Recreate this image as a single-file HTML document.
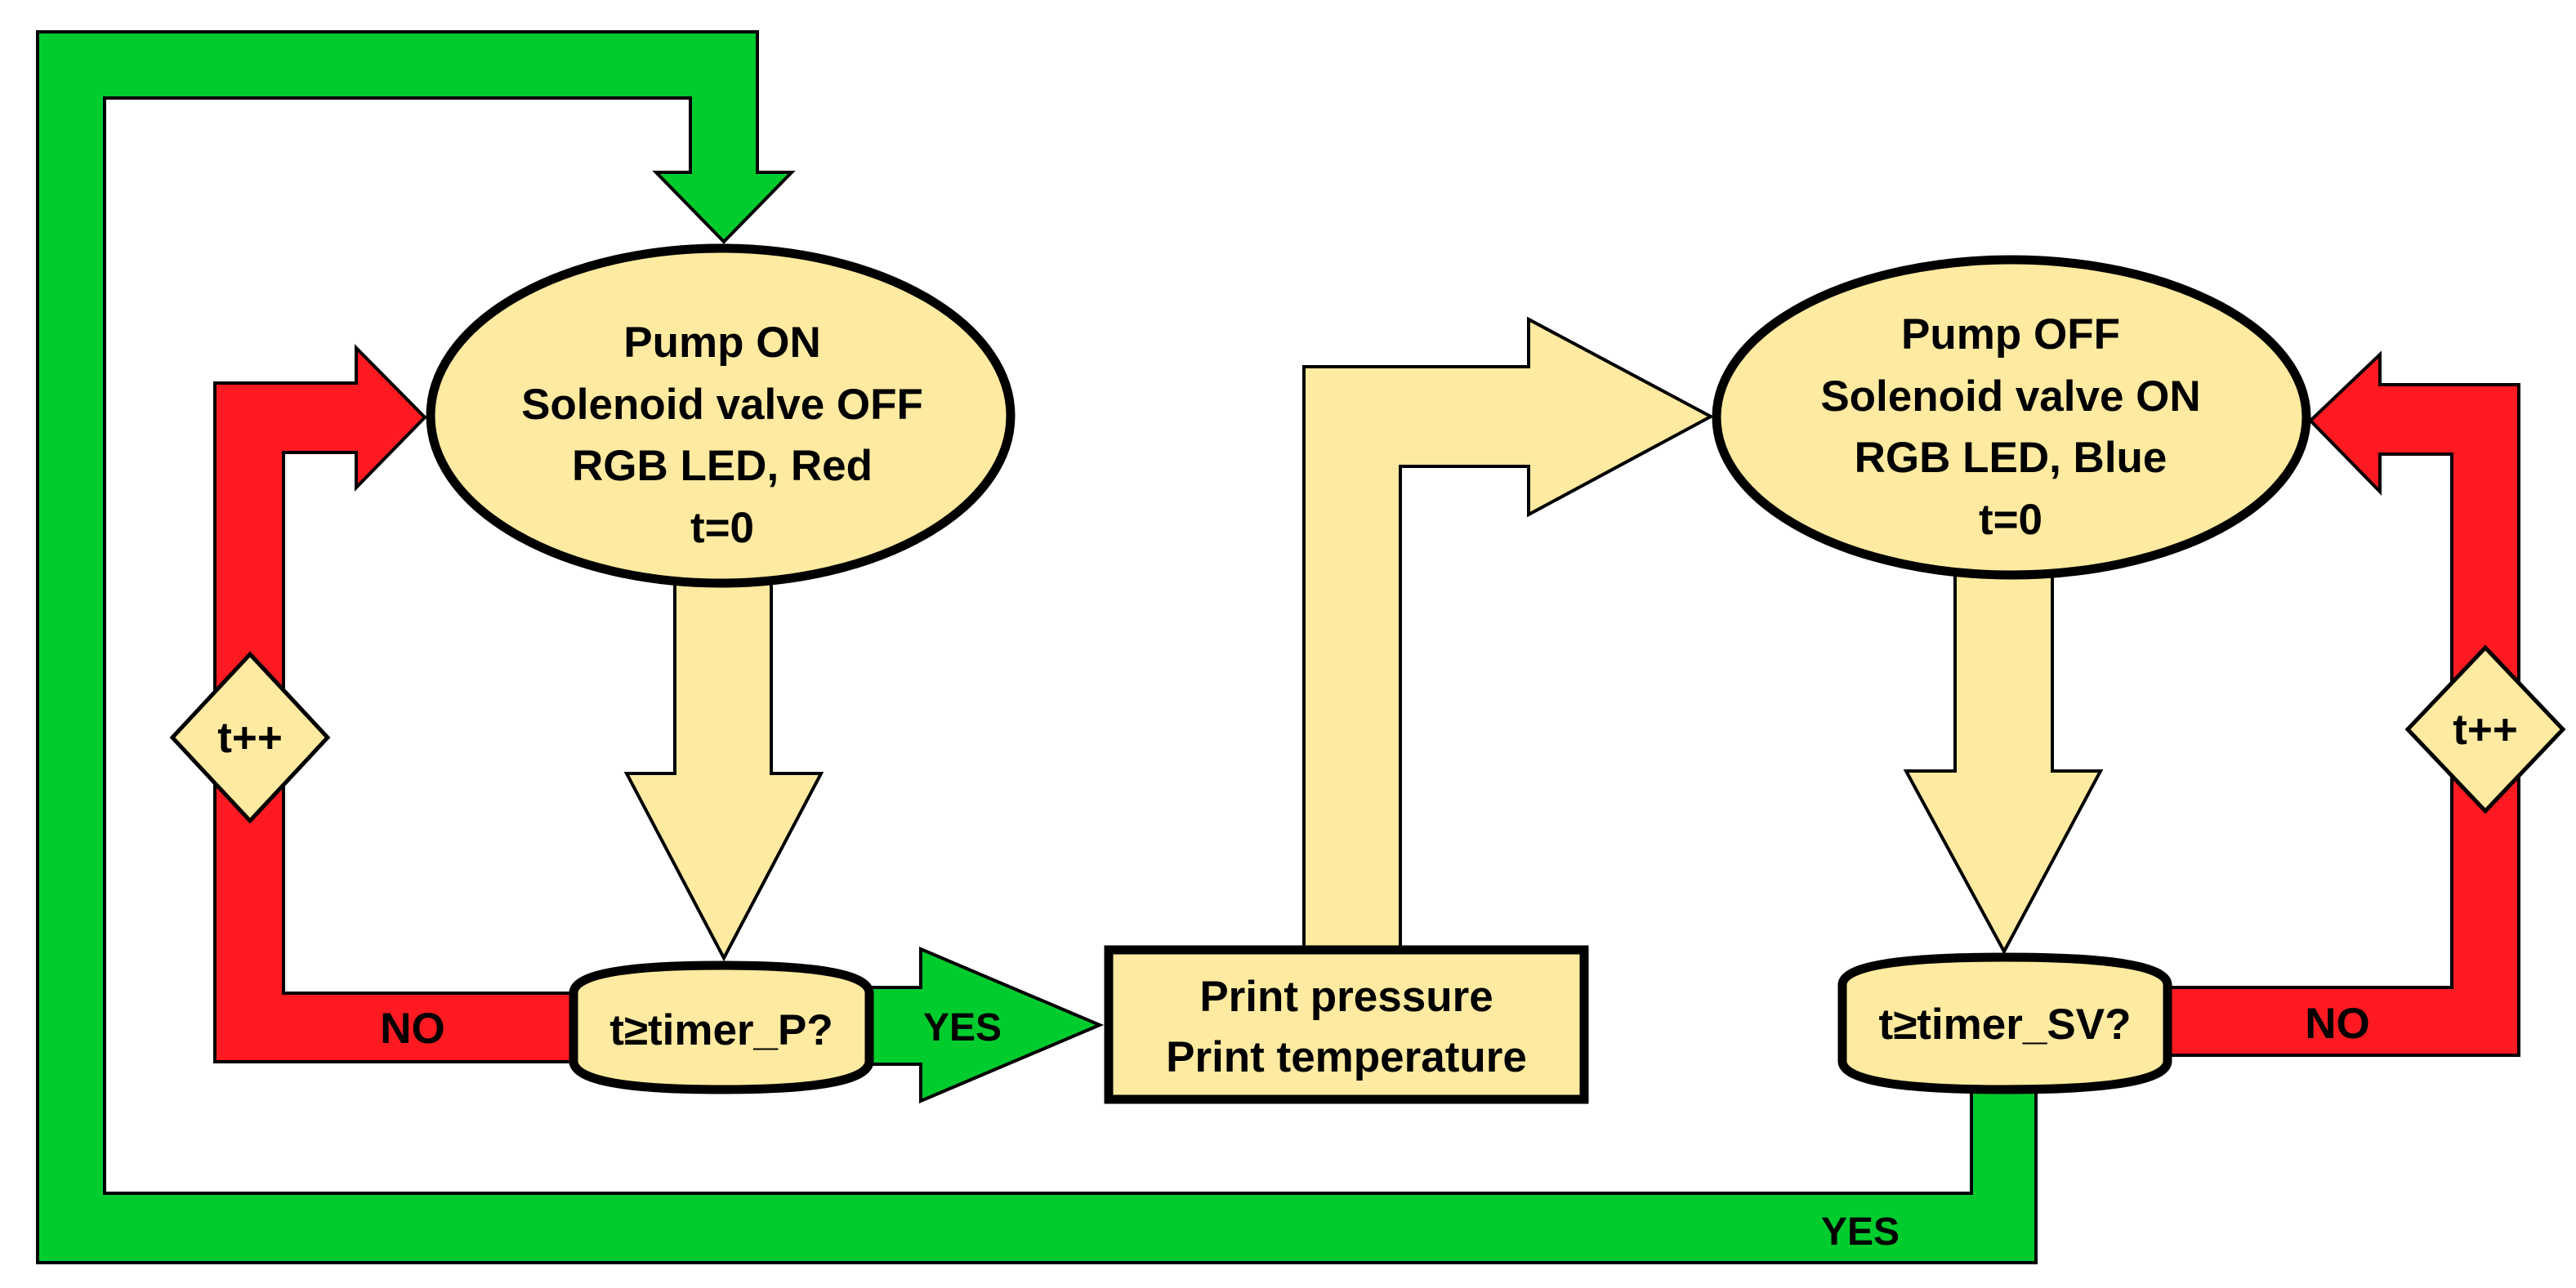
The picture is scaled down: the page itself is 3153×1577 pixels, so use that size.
<!DOCTYPE html>
<html><head><meta charset="utf-8"><style>
html,body{margin:0;padding:0;background:#fff}
svg{display:block}
text{font-family:"Liberation Sans",sans-serif;font-weight:bold;fill:#000}
</style></head><body>
<svg width="3153" height="1577" viewBox="0 0 3153 1577" xmlns="http://www.w3.org/2000/svg">
<g stroke="#000" stroke-width="4" stroke-linejoin="miter">
<path fill="#00CC2E" d="M46,39 H927 V211 H969 L886,296 L803,211 H845 V120 H128 V1461 H2413 V1336 H2492 V1546 H46 Z"/>
<path fill="#FF1A22" d="M263,469 H436 V426 L520,511 L436,597 V554 H347 V1216 H700 V1300 H263 Z"/>
<path fill="#FF1A22" d="M3083,471 H2913 V434 L2828,515 L2913,602 V556 H3001 V1209 H2655 V1292 H3083 Z"/>
<path fill="#00CC2E" d="M1066,1209 H1127 V1162 L1346,1255 L1127,1348 V1303 H1066 Z"/>
<path fill="#FEEAA0" d="M826,712 H944 V947 H1005 L886,1173 L767,947 H826 Z"/>
<path fill="#FEEAA0" d="M2393,702 H2512 V944 H2571 L2453,1165 L2333,944 H2393 Z"/>
<path fill="#FEEAA0" d="M1596,1160 V449 H1871 V391 L2094,510 L1871,630 V571 H1714 V1160 Z"/>
</g>
<ellipse cx="882" cy="509" rx="355" ry="205" fill="#FEEAA0" stroke="#000" stroke-width="11"/>
<ellipse cx="2462" cy="511" rx="361" ry="193" fill="#FEEAA0" stroke="#000" stroke-width="11"/>
<path d="M702,1215 Q705,1182 883,1182 Q1061,1182 1064,1215 V1300 Q1061,1334 883,1334 Q705,1334 702,1300 Z" fill="#FEEAA0" stroke="#000" stroke-width="11"/>
<path d="M2255,1205 Q2258,1172 2454,1172 Q2650,1172 2653,1205 V1300 Q2650,1334 2454,1334 Q2258,1334 2255,1300 Z" fill="#FEEAA0" stroke="#000" stroke-width="11"/>
<rect x="1357" y="1163" width="582" height="183" fill="#FEEAA0" stroke="#000" stroke-width="11"/>
<path d="M306,801 L401,903 L306,1005 L211,903 Z" fill="#FEEAA0" stroke="#000" stroke-width="5"/>
<path d="M3042,793 L3137,893 L3042,993 L2947,893 Z" fill="#FEEAA0" stroke="#000" stroke-width="5"/>
<g font-size="53" text-anchor="middle">
<text x="884" y="437">Pump ON</text>
<text x="884" y="513">Solenoid valve OFF</text>
<text x="884" y="588">RGB LED, Red</text>
<text x="884" y="664">t=0</text>
<text x="2461" y="427">Pump OFF</text>
<text x="2461" y="503">Solenoid valve ON</text>
<text x="2461" y="578">RGB LED, Blue</text>
<text x="2461" y="654">t=0</text>
<text x="883" y="1279">t≥timer_P?</text>
<text x="2454" y="1272">t≥timer_SV?</text>
<text x="1648" y="1238">Print pressure</text>
<text x="1648" y="1312">Print temperature</text>
<text x="306" y="921">t++</text>
<text x="3042" y="911">t++</text>
<text x="505" y="1277">NO</text>
<text x="2861" y="1271">NO</text>
<text x="1178" y="1274" font-size="48">YES</text>
<text x="2277" y="1524" font-size="48">YES</text>
</g>
</svg>
</body></html>
